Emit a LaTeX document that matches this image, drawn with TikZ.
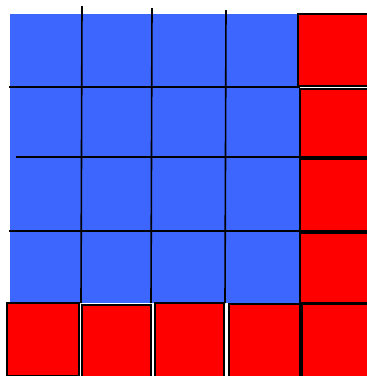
\documentclass[tikz,border=0pt]{standalone}
\definecolor{gridblue}{RGB}{61,102,255}
\definecolor{boxred}{RGB}{255,0,0}
\tikzset{
  redbox/.style={fill=boxred,draw=black,line width=1.6pt},
  gridline/.style={draw=black,line width=1.6pt}
}
\begin{document}
\begin{tikzpicture}[x=1pt,y=-1pt]
\useasboundingbox (0,0) rectangle (367,376);
\begin{scope}
\clip (0,0) rectangle (367,376);
% blue area
\fill[gridblue] (10,14) rectangle (299,303);
% grid lines
\draw[gridline] (82,6) -- (81,303);
\draw[gridline] (152,8) -- (151,303);
\draw[gridline] (226,10) -- (225,303);
\draw[gridline] (9,87) -- (300,87);
\draw[gridline] (16,157) -- (300,157);
\draw[gridline] (9,231) -- (300,231);
% right column
\draw[redbox] (298,14) rectangle (370,86);
\draw[redbox] (300,89) rectangle (370,157);
\draw[redbox] (300,159) rectangle (370,231);
\draw[redbox] (300,233) rectangle (370,303);
% bottom row
\draw[redbox] (7,303) rectangle (79,376);
\draw[redbox] (82,305) rectangle (151,378);
\draw[redbox] (155,303) rectangle (224,378);
\draw[redbox] (229,304) rectangle (300,378);
\draw[redbox] (302,304) rectangle (370,378);
\end{scope}
\end{tikzpicture}
\end{document}
